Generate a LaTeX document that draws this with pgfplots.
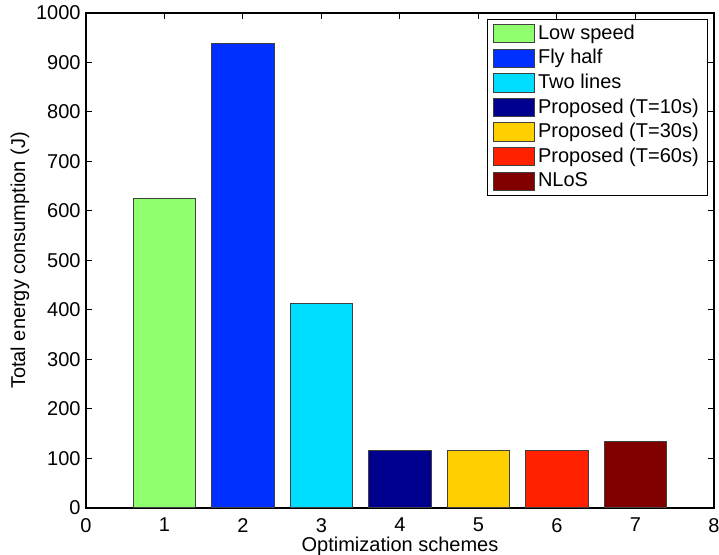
\documentclass[border=0pt]{standalone}
\usepackage{fontspec}
\setmainfont{Liberation Sans}
\usepackage{pgfplots}
\pgfplotsset{compat=1.18}
\definecolor{cLow}{RGB}{143,255,112}
\definecolor{cFly}{RGB}{0,48,255}
\definecolor{cTwo}{RGB}{0,222,255}
\definecolor{cTen}{RGB}{0,0,143}
\definecolor{cThirty}{RGB}{255,207,0}
\definecolor{cSixty}{RGB}{255,32,0}
\definecolor{cNLoS}{RGB}{128,0,0}
\begin{document}
\begin{tikzpicture}
\begin{axis}[
  scale only axis,
  width=314pt, height=247.5pt,
  xmin=0, xmax=8, ymin=0, ymax=1000,
  xtick={0,1,...,8},
  ytick={0,100,...,1000},
  /pgf/number format/assume math mode=true,
  /pgf/number format/1000 sep={},
  axis line style={line width=0.6pt},
  major tick length=3pt,
  tick style={black, line width=0.5pt},
  tick align=inside,
  xticklabel style={yshift=-1.5pt},
  yticklabel style={xshift=0.8pt},
  xlabel={Optimization schemes},
  ylabel={Total energy consumption (J)},
  xlabel shift=-4.3pt,
  ylabel shift=-3.5pt,
  legend image code/.code={\draw[#1] (0pt,-4.6pt) rectangle (20.5pt,4.6pt);},
  legend cell align=left,
  legend style={at={(1,1)}, anchor=north east, xshift=-3pt, yshift=-3pt,
    draw=black, line width=0.5pt, inner xsep=3pt, inner ysep=1pt,
    nodes={inner sep=1.4pt, text depth=0.2em, text height=0.75em}},
  every axis plot/.append style={ybar, bar width=0.8, bar shift=0pt, draw=black!75, line width=0.5pt},
]
\addplot[fill=cLow] coordinates {(1,625)};
\addlegendentry{Low speed}
\addplot[fill=cFly] coordinates {(2,939)};
\addlegendentry{Fly half}
\addplot[fill=cTwo] coordinates {(3,413)};
\addlegendentry{Two lines}
\addplot[fill=cTen] coordinates {(4,116)};
\addlegendentry{Proposed (T=10s)}
\addplot[fill=cThirty] coordinates {(5,116)};
\addlegendentry{Proposed (T=30s)}
\addplot[fill=cSixty] coordinates {(6,116)};
\addlegendentry{Proposed (T=60s)}
\addplot[fill=cNLoS] coordinates {(7,135)};
\addlegendentry{NLoS}
\coordinate (ll) at (rel axis cs:0,0);
\coordinate (ur) at (rel axis cs:1,1);
\end{axis}
\pgfresetboundingbox
\useasboundingbox ([xshift=-43pt,yshift=-23pt]ll) rectangle ([xshift=2.5pt,yshift=6.5pt]ur);
\end{tikzpicture}
\end{document}
